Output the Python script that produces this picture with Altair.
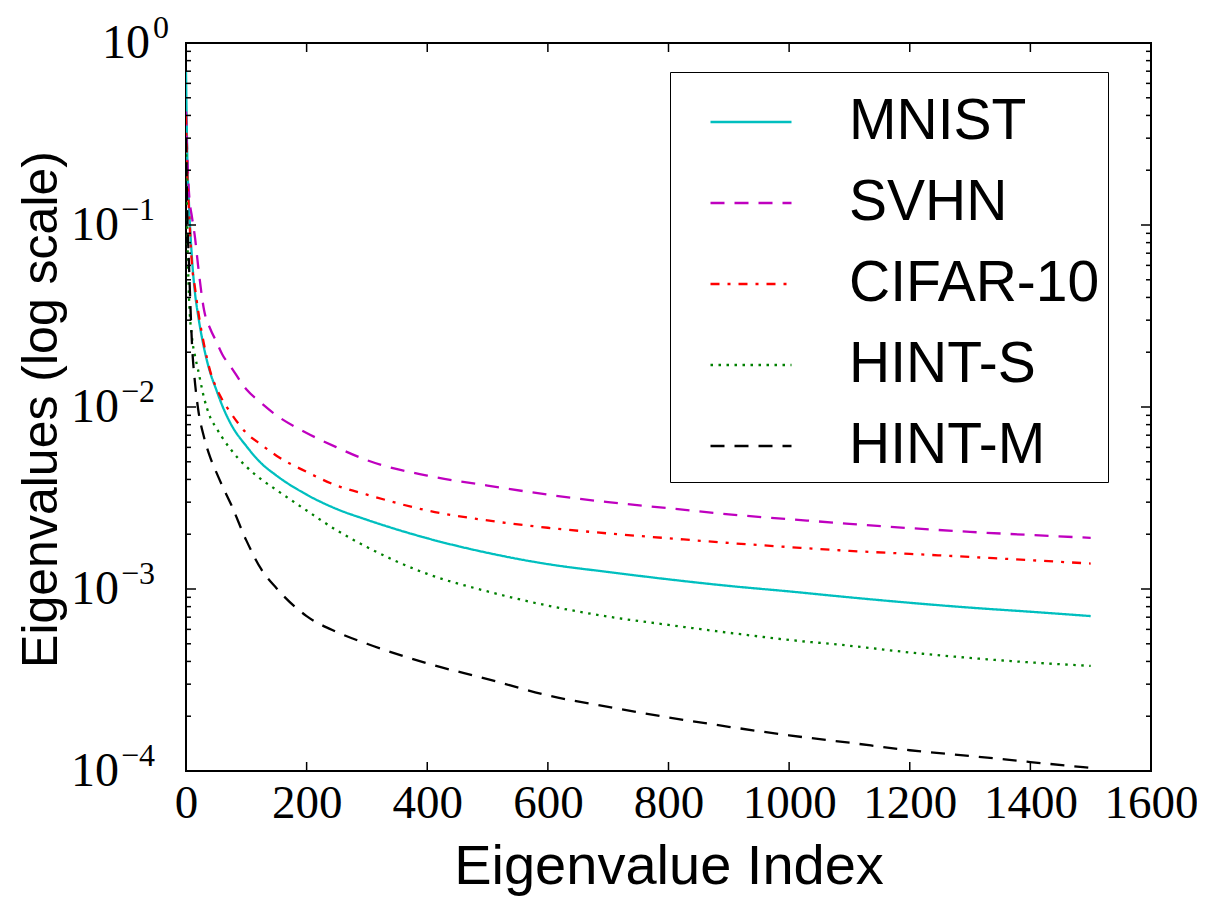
import altair as alt
import pandas as pd

# ---------------- data ----------------
index = [0, 2, 5, 10, 15, 20, 30, 40, 50, 60, 75, 100, 125, 150, 200, 250, 300,
         400, 500, 600, 700, 800, 900, 1000, 1100, 1200, 1300, 1400, 1500]

mnist = [0.7, 0.25, 0.13, 0.065, 0.042, 0.032, 0.021, 0.0155, 0.0125, 0.0102, 0.0080,
         0.0061, 0.0049, 0.0042, 0.0033, 0.00275, 0.0024, 0.0019, 0.00158, 0.00137,
         0.00124, 0.00113, 0.00104, 0.00097, 0.00090, 0.00084, 0.00079, 0.00075, 0.00071]

svhn = [0.42, 0.25, 0.15, 0.11, 0.085, 0.06, 0.034, 0.027, 0.023, 0.0195, 0.0165,
        0.0125, 0.0105, 0.0090, 0.0072, 0.0060, 0.0051, 0.0042, 0.0037, 0.0033,
        0.0030, 0.00278, 0.00257, 0.00242, 0.00228, 0.00216, 0.00206, 0.00198, 0.00191]

cifar10 = [0.4, 0.2, 0.12, 0.06, 0.045, 0.034, 0.022, 0.0158, 0.0128, 0.011, 0.0092,
           0.0072, 0.0062, 0.0054, 0.0044, 0.0037, 0.0033, 0.0027, 0.00238, 0.00217,
           0.00202, 0.0019, 0.00179, 0.0017, 0.00162, 0.00156, 0.0015, 0.00144, 0.00138]

hint_s = [0.3, 0.1, 0.04, 0.024, 0.019, 0.016, 0.0112, 0.0088, 0.0077, 0.0068, 0.0058,
          0.0047, 0.0040, 0.0035, 0.0027, 0.0021, 0.0017, 0.00121, 0.00097, 0.00081,
          0.000705, 0.000635, 0.000575, 0.000525, 0.000488, 0.000448, 0.000418,
          0.000395, 0.000378]

hint_m = [0.3, 0.12, 0.06, 0.022, 0.0135, 0.0098, 0.0068, 0.0053, 0.0044, 0.0037,
          0.0029, 0.00185, 0.00128, 0.00101, 0.00071, 0.00058, 0.00050, 0.00039,
          0.00032, 0.00026, 0.000225, 0.000197, 0.000175, 0.000157, 0.000143,
          0.00013, 0.000121, 0.000112, 0.000104]

series_names = ["MNIST", "SVHN", "CIFAR-10", "HINT-S", "HINT-M"]
series_values = [mnist, svhn, cifar10, hint_s, hint_m]
series_colors = ["#00bfbf", "#bf00bf", "#ff0000", "#008000", "#000000"]
series_dashes = [[1, 0], [14, 10], [9, 8, 3, 8], [2.5, 5.5], [14, 10]]

x_ticks = [0, 200, 400, 600, 800, 1000, 1200, 1400, 1600]
y_major = [1, 1e-1, 1e-2, 1e-3, 1e-4]
y_exponents = ["0", "\u22121", "\u22122", "\u22123", "\u22124"]
y_minor = [m * 10.0 ** e for e in range(-4, 0) for m in [2, 3, 4, 5, 6, 7, 8, 9]]

rows = []
for name, vals in zip(series_names, series_values):
    for i, v in zip(index, vals):
        rows.append({"series": name, "index": i, "value": v})
df = pd.DataFrame(rows)

ylab = pd.DataFrame({"value": y_major, "exp": y_exponents})
ylab_zero = ylab[ylab["exp"] == "0"]
ylab_neg = ylab[ylab["exp"] != "0"]

# ---------------- chart ----------------
W, H = 965, 728
xs = alt.Scale(domain=[0, 1600], nice=False, zero=False)
ys = alt.Scale(type="log", domain=[1e-4, 1], nice=False)
XT = "Eigenvalue Index"
YT = "Eigenvalues (log scale)"

legend = alt.Legend(
    orient="none", legendX=484, legendY=29,
    symbolType="stroke", symbolSize=6561, symbolStrokeWidth=2.5,
    labelFont="Liberation Sans", labelFontSize=57, labelColor="black",
    labelOffset=56, labelLimit=800, rowPadding=11, padding=8,
    symbolOffset=31, strokeColor="black", fillColor="white", cornerRadius=0,
)

lines = alt.Chart(df).mark_line(strokeWidth=2.3, clip=True, interpolate="monotone").encode(
    x=alt.X("index:Q", scale=xs, title=XT,
            axis=alt.Axis(values=x_ticks, labelFont="Liberation Serif", labelFontSize=47,
                          labelColor="black", labelPadding=9, ticks=False, domain=False,
                          grid=False, labelFlush=False, labelOverlap=False, format="d",
                          titleFont="Liberation Sans", titleFontSize=56,
                          titleFontWeight="normal", titleColor="black",
                          titleBaseline="alphabetic", titleY=112)),
    y=alt.Y("value:Q", scale=ys, title=YT,
            axis=alt.Axis(values=y_major, labels=False, ticks=False, domain=False,
                          grid=False,
                          titleFont="Liberation Sans", titleFontSize=50,
                          titleFontWeight="normal", titleColor="black",
                          titleAngle=270, titleBaseline="alphabetic", titleAlign="center",
                          titleX=-130, titleY=366)),
    color=alt.Color("series:N", title=None,
                    scale=alt.Scale(domain=series_names, range=series_colors),
                    legend=legend),
    strokeDash=alt.StrokeDash("series:N", title=None,
                              scale=alt.Scale(domain=series_names, range=series_dashes),
                              legend=legend),
)

tick_style = dict(color="black", strokeWidth=1.5)
xt = alt.Chart(pd.DataFrame({"index": x_ticks}))
ymaj = alt.Chart(pd.DataFrame({"value": y_major}))
ymin = alt.Chart(pd.DataFrame({"value": y_minor}))

xenc = alt.X("index:Q", scale=xs, title=XT)
yenc = alt.Y("value:Q", scale=ys, title=YT)

bottom_ticks = xt.mark_rule(**tick_style).encode(x=xenc, y=alt.value(H), y2=alt.value(H - 9))
top_ticks = xt.mark_rule(**tick_style).encode(x=xenc, y=alt.value(0), y2=alt.value(9))
left_major = ymaj.mark_rule(**tick_style).encode(y=yenc, x=alt.value(0), x2=alt.value(10))
right_major = ymaj.mark_rule(**tick_style).encode(y=yenc, x=alt.value(W), x2=alt.value(W - 10))
left_minor = ymin.mark_rule(**tick_style).encode(y=yenc, x=alt.value(0), x2=alt.value(5))
right_minor = ymin.mark_rule(**tick_style).encode(y=yenc, x=alt.value(W), x2=alt.value(W - 5))

# y tick labels "10" with raised exponents (LaTeX-like)
base_style = dict(font="Liberation Serif", fontSize=48, color="black",
                  baseline="alphabetic", align="right", dy=15)
exp_style = dict(font="Liberation Serif", fontSize=32, color="black",
                 baseline="alphabetic", align="left", dy=-5)

base_neg = alt.Chart(ylab_neg).mark_text(**base_style).encode(
    y=yenc, x=alt.value(-67), text=alt.value("10"))
exp_neg = alt.Chart(ylab_neg).mark_text(**exp_style).encode(
    y=yenc, x=alt.value(-65), text="exp:N")
base_zero = alt.Chart(ylab_zero).mark_text(**base_style).encode(
    y=yenc, x=alt.value(-36), text=alt.value("10"))
exp_zero = alt.Chart(ylab_zero).mark_text(**exp_style).encode(
    y=yenc, x=alt.value(-33), text="exp:N")

chart = alt.layer(
    lines, bottom_ticks, top_ticks, left_major, right_major, left_minor, right_minor,
    base_neg, exp_neg, base_zero, exp_zero
).properties(
    width=W, height=H,
    background="white",
    autosize=alt.AutoSizeParams(type="none"),
    padding={"left": 178, "top": 35, "right": 46, "bottom": 125},
).configure_view(
    stroke="black", strokeWidth=2
)

chart.save("out.html", embed_options={"renderer": "svg", "actions": False})
